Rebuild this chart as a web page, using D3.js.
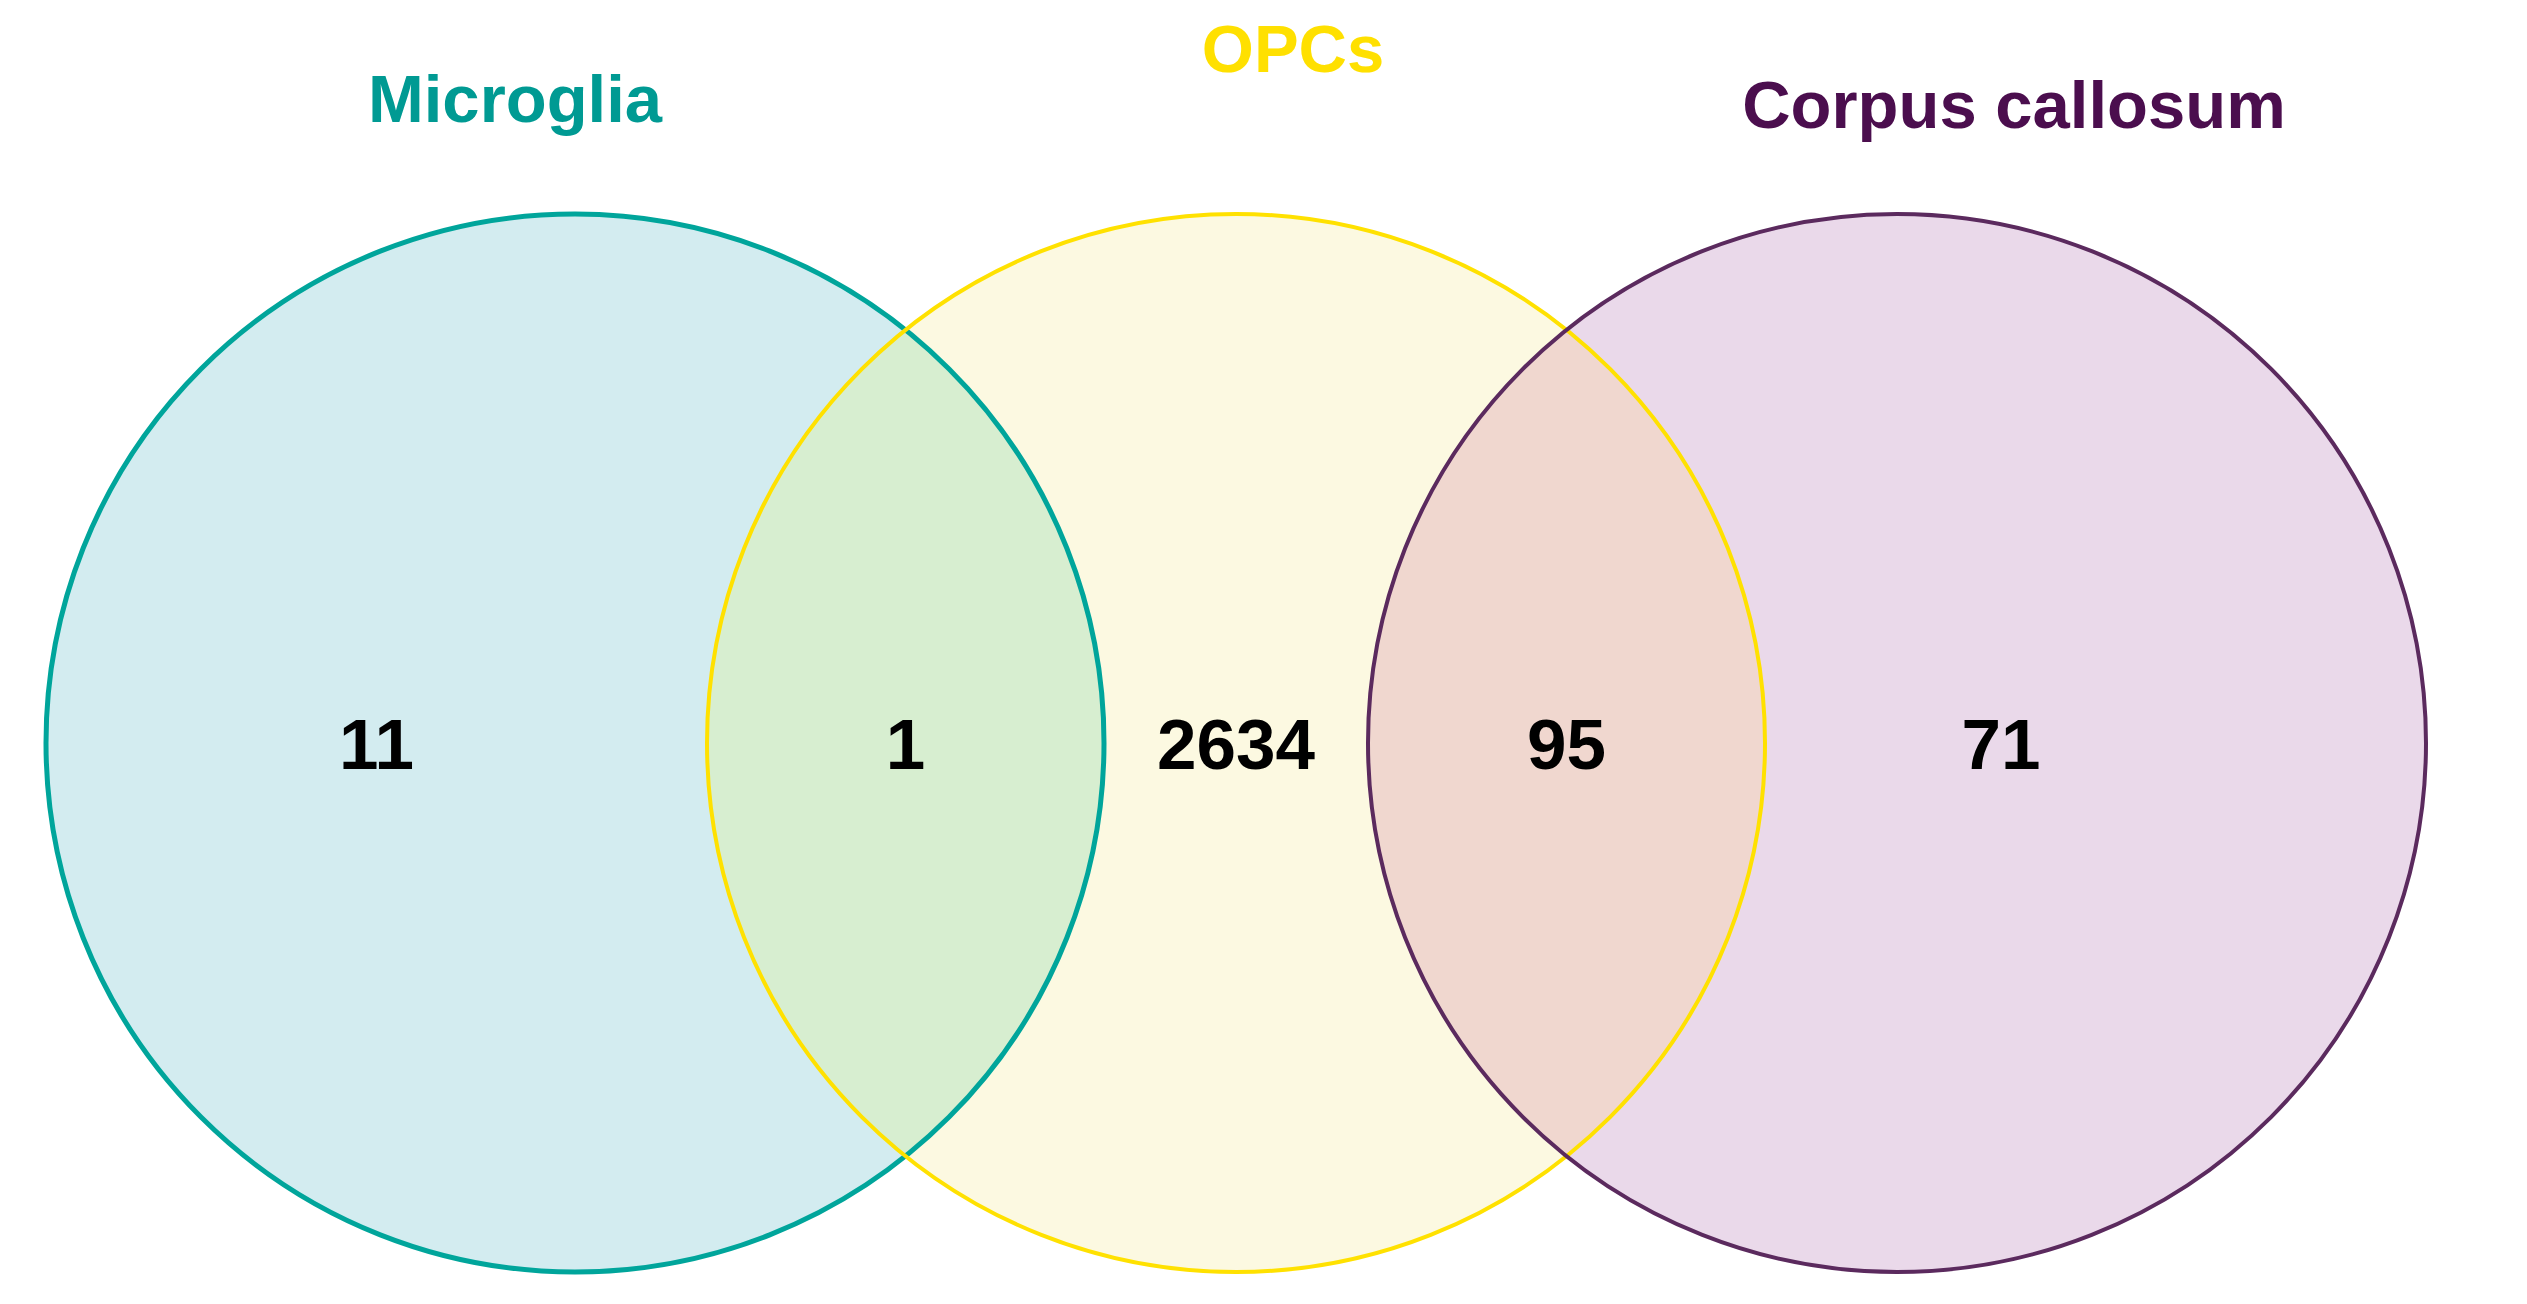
<!DOCTYPE html>
<html>
<head>
<meta charset="utf-8">
<script src="https://cdn.jsdelivr.net/npm/d3@7"></script>
<style>
    body { margin: 0; background: #fff; }
    svg { display: block; }
    text { font-family: 'Liberation Sans', Arial, sans-serif; font-weight: bold; }
</style>
</head>
<body>
<script>

// Data

const setNames = ['Microglia', 'OPCs', 'Corpus callosum']
const setStroke = ['#00a59b', '#ffe100', '#5b2a5e']
const setFill = ['#d3ecf0', '#fcf9e1', '#ead9ea']
const titleColor = ['#009a93', '#ffe000', '#4b0e4e']

const regionNames = ['Microglia only', 'Microglia & OPCs', 'OPCs only', 'OPCs & Corpus callosum', 'Corpus callosum only']
const regionSets = [['Microglia'], ['Microglia', 'OPCs'], ['OPCs'], ['OPCs', 'Corpus callosum'], ['Corpus callosum']]
const regionCounts = [11, 1, 2634, 95, 71]
const overlapFill = { 'Microglia & OPCs': '#d7eed0', 'OPCs & Corpus callosum': '#f0d7cf' }

const renderVenn = () => {

    // Layout

    const w = 2527
    const h = 1304
    const cy = 743
    const r = 529
    const titleDx = [-60, 57, 117]
    const titleY = [122, 72, 128]
    const labelFrac = [0.5, 0.5, 0.5, 0.5, 0.357]

    const svg = d3.select('body')
        .append('svg')
            .attr('width', w)
            .attr('height', h)

    svg.append('rect')
        .attr('width', w)
        .attr('height', h)
        .attr('fill', '#fff')

    const xScale = d3.scalePoint()
        .domain(setNames)
        .range([575, 1897])

    const defs = svg.append('defs')

    defs.selectAll('clipPath')
        .data(setNames)
        .enter()
        .append('clipPath')
            .attr('id', (d, i) => `clip-${i}`)
        .append('circle')
            .attr('cx', d => xScale(d))
            .attr('cy', cy)
            .attr('r', r)

    // Fills

    svg.selectAll('.set-fill')
        .data(setNames)
        .enter()
        .append('circle')
            .attr('class', 'set-fill')
            .attr('cx', d => xScale(d))
            .attr('cy', cy)
            .attr('r', r)
            .attr('fill', (d, i) => setFill[i])

    // Overlaps: circle of the first set clipped by the second one
    const overlaps = regionNames.filter((d, i) => regionSets[i].length === 2)

    svg.selectAll('.overlap')
        .data(overlaps)
        .enter()
        .append('g')
            .attr('clip-path', d => `url(#clip-${setNames.indexOf(regionSets[regionNames.indexOf(d)][1])})`)
        .append('circle')
            .attr('class', 'overlap')
            .attr('cx', d => xScale(regionSets[regionNames.indexOf(d)][0]))
            .attr('cy', cy)
            .attr('r', r)
            .attr('fill', d => overlapFill[d])

    // Outlines

    svg.selectAll('.set-line')
        .data(setNames)
        .enter()
        .append('circle')
            .attr('class', 'set-line')
            .attr('cx', d => xScale(d))
            .attr('cy', cy)
            .attr('r', r)
            .attr('fill', 'none')
            .attr('stroke', (d, i) => setStroke[i])
            .attr('stroke-width', (d, i) => i === 0 ? 5 : 4)

    // Titles

    svg.selectAll('.title')
        .data(setNames)
        .enter()
        .append('text')
            .attr('class', 'title')
            .attr('x', (d, i) => xScale(d) + titleDx[i])
            .attr('y', (d, i) => titleY[i])
            .attr('text-anchor', 'middle')
            .attr('font-size', 67)
            .attr('fill', (d, i) => titleColor[i])
            .text(d => d)

    // Counts, centred on each region's span along the middle line

    const regionSpan = (sets) => {
        const idx = sets.map(s => setNames.indexOf(s))
        let left = d3.max(idx, i => xScale(setNames[i]) - r)
        let right = d3.min(idx, i => xScale(setNames[i]) + r)
        if (idx.length === 1) {
            const i = idx[0]
            if (i > 0) left = xScale(setNames[i - 1]) + r
            if (i < setNames.length - 1) right = xScale(setNames[i + 1]) - r
        }
        return [left, right]
    }

    svg.selectAll('.count')
        .data(regionNames)
        .enter()
        .append('text')
            .attr('class', 'count')
            .attr('x', (d, i) => {
                const span = regionSpan(regionSets[i])
                return span[0] + (span[1] - span[0]) * labelFrac[i]
            })
            .attr('y', cy + 26)
            .attr('text-anchor', 'middle')
            .attr('font-size', 71)
            .attr('fill', '#000')
            .text((d, i) => regionCounts[i])
}

renderVenn()

</script>
</body>
</html>
